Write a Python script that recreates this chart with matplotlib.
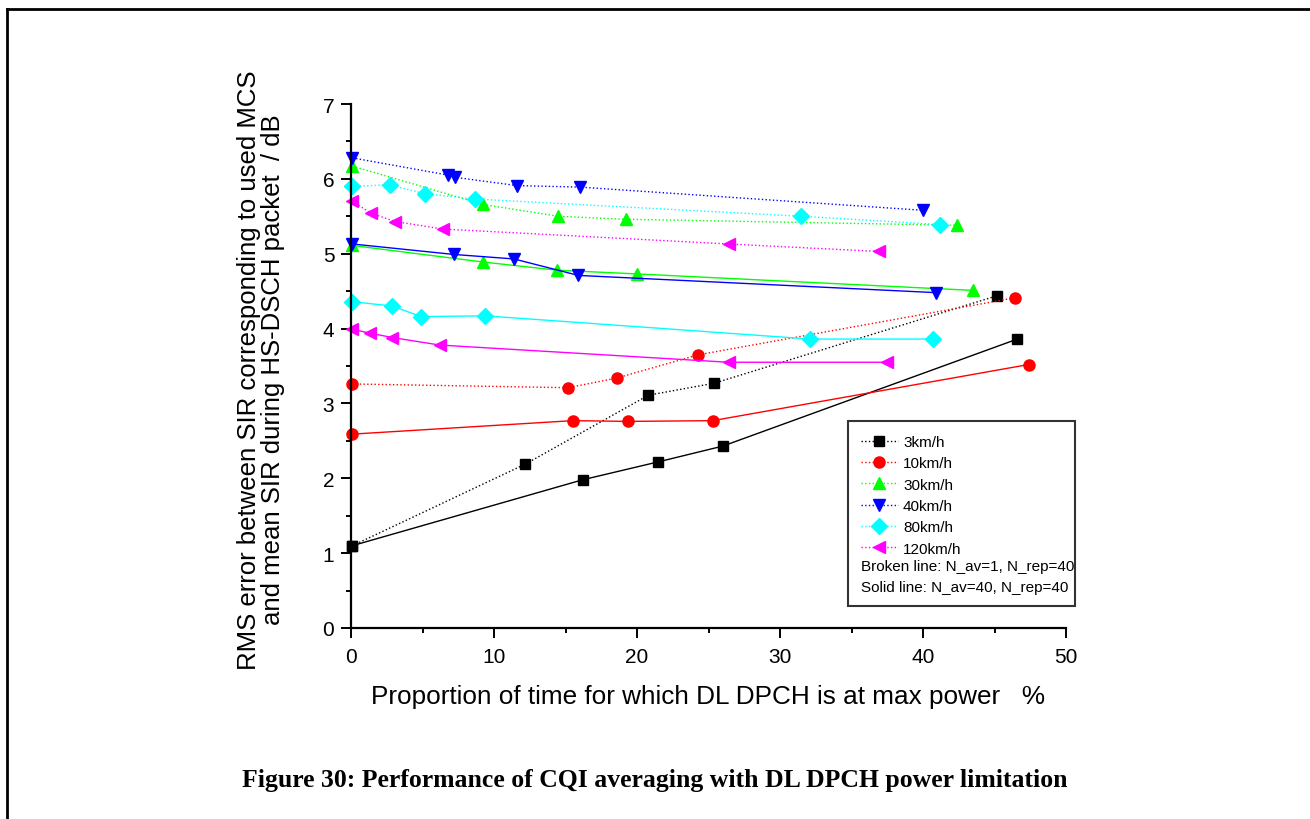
import matplotlib.pyplot as plt
from matplotlib.lines import Line2D
from matplotlib.patches import Rectangle

plt.rcParams['font.family'] = ['Liberation Sans', 'DejaVu Sans']

# data: (x in %, y in dB)
x3_broken = [0.1, 12.2, 20.8, 25.4, 45.2]
y3_broken = [1.10, 2.19, 3.11, 3.27, 4.44]
x3_solid = [0.1, 16.2, 21.5, 26.0, 46.6]
y3_solid = [1.10, 1.98, 2.22, 2.43, 3.86]

x10_broken = [0.1, 15.2, 18.6, 24.3, 46.4]
y10_broken = [3.26, 3.21, 3.34, 3.65, 4.41]
x10_solid = [0.1, 15.5, 19.4, 25.3, 47.4]
y10_solid = [2.59, 2.77, 2.76, 2.77, 3.52]

x30_broken = [0.1, 9.2, 14.5, 19.2, 42.4]
y30_broken = [6.17, 5.66, 5.50, 5.46, 5.38]
x30_solid = [0.1, 9.2, 14.4, 20.0, 43.5]
y30_solid = [5.11, 4.89, 4.78, 4.73, 4.51]

x40_broken = [0.1, 6.8, 7.3, 11.6, 16.0, 40.0]
y40_broken = [6.28, 6.05, 6.02, 5.91, 5.89, 5.58]
x40_solid = [0.1, 7.2, 11.4, 15.9, 40.9]
y40_solid = [5.13, 4.99, 4.93, 4.71, 4.48]

x80_broken = [0.1, 2.7, 5.2, 8.7, 31.5, 41.2]
y80_broken = [5.90, 5.92, 5.80, 5.73, 5.50, 5.39]
x80_solid = [0.1, 2.9, 4.9, 9.4, 32.1, 40.7]
y80_solid = [4.36, 4.30, 4.16, 4.17, 3.86, 3.86]

x120_broken = [0.1, 1.4, 3.1, 6.4, 26.4, 36.9]
y120_broken = [5.70, 5.54, 5.43, 5.33, 5.13, 5.03]
x120_solid = [0.1, 1.3, 2.9, 6.2, 26.4, 37.5]
y120_solid = [3.99, 3.94, 3.88, 3.78, 3.55, 3.55]

labels = ['3km/h', '10km/h', '30km/h', '40km/h', '80km/h', '120km/h']
colors = ['black', '#ff0000', '#00ff00', '#0000ff', '#00ffff', '#ff00ff']
markers = ['s', 'o', '^', 'v', 'D', '<']
msizes = [7, 8, 9, 9, 8, 9]

broken = [(x3_broken, y3_broken), (x10_broken, y10_broken), (x30_broken, y30_broken),
          (x40_broken, y40_broken), (x80_broken, y80_broken), (x120_broken, y120_broken)]
solid = [(x3_solid, y3_solid), (x10_solid, y10_solid), (x30_solid, y30_solid),
         (x40_solid, y40_solid), (x80_solid, y80_solid), (x120_solid, y120_solid)]

fig = plt.figure(figsize=(13.1, 8.2), dpi=100)
ax = fig.add_axes([351 / 1310, 1 - 629 / 820, 715 / 1310, 524 / 820])

handles = []
for (xb, yb), (xs, ys), c, m, ms, lab in zip(broken, solid, colors, markers, msizes, labels):
    ax.plot(xs, ys, color=c, lw=1.0, marker=m, ms=ms, mec=c, mfc=c, clip_on=False)
    ax.plot(xb, yb, color=c, lw=1.0, ls=':', marker=m, ms=ms, mec=c, mfc=c, clip_on=False)
    handles.append(Line2D([], [], color=c, lw=1.0, ls=':', marker=m, ms=ms, mec=c, mfc=c))

ax.set_xlim(0, 50)
ax.set_ylim(0, 7)
ax.set_xticks([0, 10, 20, 30, 40, 50])
ax.set_xticks([5, 15, 25, 35, 45], minor=True)
ax.set_yticks(range(0, 8))
ax.set_yticks([0.5, 1.5, 2.5, 3.5, 4.5, 5.5, 6.5], minor=True)
for s in ['top', 'right']:
    ax.spines[s].set_visible(False)
for s in ['left', 'bottom']:
    ax.spines[s].set_linewidth(1.6)
ax.tick_params(which='major', direction='out', length=7, width=1.4, labelsize=15)
ax.tick_params(axis='x', which='major', pad=7)
ax.tick_params(axis='y', which='major', pad=5)
ax.tick_params(which='minor', direction='out', length=3.5, width=1.4)

fig.text(708 / 1310, 1 - 697 / 820, 'Proportion of time for which DL DPCH is at max power   %',
         fontsize=18.8, ha='center', va='center')
fig.text(261 / 1310, 1 - 370 / 820,
         'RMS error between SIR corresponding to used MCS\nand mean SIR during HS-DSCH packet  / dB',
         fontsize=18.5, rotation=90, ha='center', va='center', multialignment='center',
         linespacing=1.0)

leg = ax.legend(handles, labels, loc='upper left', frameon=False, fontsize=11,
                bbox_to_anchor=(861 / 1310, 1 - 436 / 820), bbox_transform=fig.transFigure,
                borderpad=0, borderaxespad=0, handlelength=2.4, handletextpad=0.35,
                labelspacing=0.48)
ax.text(861 / 1310, 1 - 567 / 820, 'Broken line: N_av=1, N_rep=40', transform=fig.transFigure,
        fontsize=11, va='center', ha='left')
ax.text(861 / 1310, 1 - 588 / 820, 'Solid line: N_av=40, N_rep=40', transform=fig.transFigure,
        fontsize=11, va='center', ha='left')
fig.patches.append(Rectangle((848 / 1310, 1 - 607 / 820), 227 / 1310, 185 / 820,
                             transform=fig.transFigure, fill=False, ec='#333333', lw=1.5))

# page frame
fig.add_artist(Line2D([7 / 1310, 7 / 1310], [0, 1 - 10 / 820], color='black', lw=2,
                      transform=fig.transFigure))
fig.add_artist(Line2D([7 / 1310, 1], [1 - 10 / 820, 1 - 10 / 820], color='black', lw=2,
                      transform=fig.transFigure))

fig.text(655 / 1310, 1 - 781 / 820, 'Figure 30: Performance of CQI averaging with DL DPCH power limitation',
         family='Liberation Serif', weight='bold', fontsize=18.5, ha='center', va='center')

plt.savefig('out.png', dpi=100)
